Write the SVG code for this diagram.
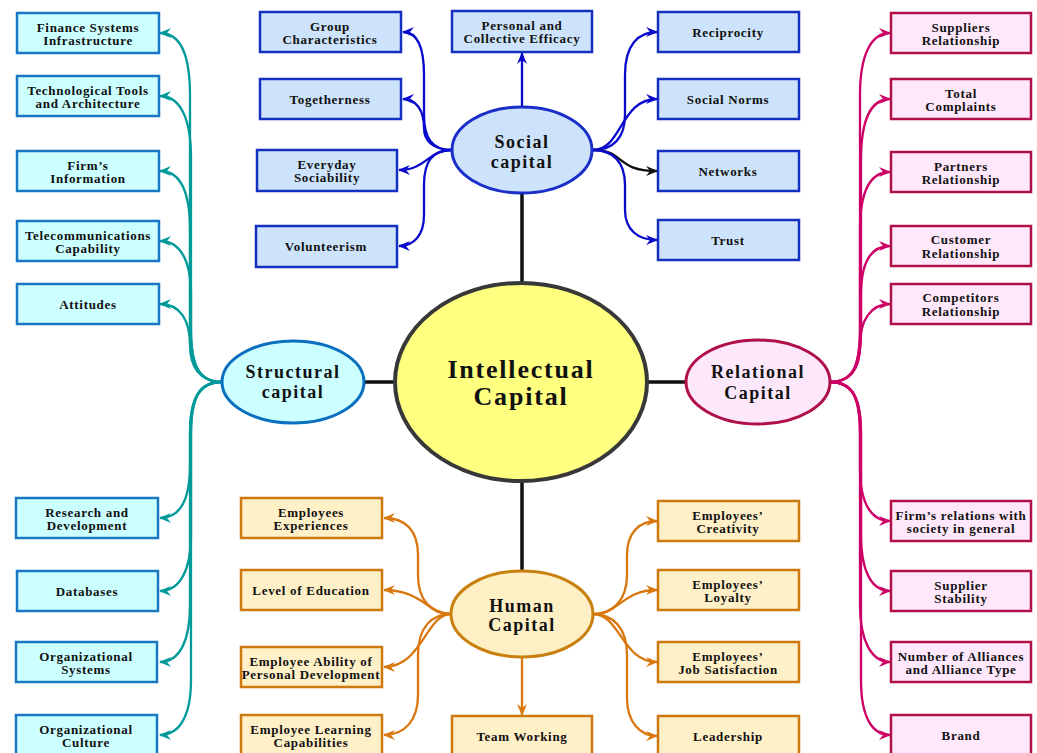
<svg xmlns="http://www.w3.org/2000/svg" width="1037" height="753" viewBox="0 0 1037 753">
<defs>
<marker id="aT" markerUnits="userSpaceOnUse" markerWidth="12" markerHeight="12" viewBox="0 0 12 12" refX="11" refY="6" orient="auto"><path d="M0,1 L12,6 L0,11 L4,6 z" fill="#009a9a"/></marker>
<marker id="aB" markerUnits="userSpaceOnUse" markerWidth="12" markerHeight="12" viewBox="0 0 12 12" refX="11" refY="6" orient="auto"><path d="M0,1 L12,6 L0,11 L4,6 z" fill="#0a0acc"/></marker>
<marker id="aK" markerUnits="userSpaceOnUse" markerWidth="12" markerHeight="12" viewBox="0 0 12 12" refX="11" refY="6" orient="auto"><path d="M0,1 L12,6 L0,11 L4,6 z" fill="#111"/></marker>
<marker id="aP" markerUnits="userSpaceOnUse" markerWidth="12" markerHeight="12" viewBox="0 0 12 12" refX="11" refY="6" orient="auto"><path d="M0,1 L12,6 L0,11 L4,6 z" fill="#cc0066"/></marker>
<marker id="aO" markerUnits="userSpaceOnUse" markerWidth="12" markerHeight="12" viewBox="0 0 12 12" refX="11" refY="6" orient="auto"><path d="M0,1 L12,6 L0,11 L4,6 z" fill="#d9770f"/></marker>
</defs>
<style>
text{font-family:"Liberation Serif","Times New Roman",serif;font-weight:bold;fill:#111;text-anchor:middle}
.bt{font-size:13px;letter-spacing:0.7px}
.et{font-size:18px;letter-spacing:1.5px}
.ct{font-size:26px;letter-spacing:1.8px}
.st rect{fill:#ccffff;stroke:#1a78c2;stroke-width:2.5}
.so rect{fill:#cce3fb;stroke:#1530c0;stroke-width:2.5}
.re rect{fill:#ffe8fb;stroke:#b0104a;stroke-width:2.5}
.hu rect{fill:#fff0c8;stroke:#cc7a10;stroke-width:2.5}
.c{fill:none;stroke-width:2.3}
.cT{stroke:#009a9a;marker-end:url(#aT)}
.cB{stroke:#0a0acc;marker-end:url(#aB)}
.cK{stroke:#111;marker-end:url(#aK)}
.cP{stroke:#cc0066;marker-end:url(#aP)}
.cO{stroke:#d9770f;marker-end:url(#aO)}
.ln{stroke:#111;stroke-width:3.5;fill:none}
</style>
<rect width="1037" height="753" fill="#ffffff"/>

<g id="connectors">
<path class="ln" d="M522,193 L522,283 M365,382 L395,382 M648,382 L686,382 M522,480 L522,571"/>
<!-- structural -->
<path class="c cT" d="M222,382 C199,382 190,366 190,330 L190,95 C190,55 180,33 160,33"/>
<path class="c cT" d="M222,382 C199,382 191,366 191,330 L191,158 C191,118 180,96 160,96"/>
<path class="c cT" d="M222,382 C199,382 190,366 190,330 L190,230 C190,190 180,171 160,171"/>
<path class="c cT" d="M222,382 C199,382 191,366 191,330 L191,295 C191,260 180,241 160,241"/>
<path class="c cT" d="M222,382 C199,382 190,366 190,345 C190,320 180,304 160,304"/>
<path class="c cT" d="M222,382 C199,382 190,398 190,434 L190,465 C190,500 180,518 160,518"/>
<path class="c cT" d="M222,382 C199,382 191,398 191,434 L191,535 C191,570 180,591 160,591"/>
<path class="c cT" d="M222,382 C199,382 190,398 190,434 L190,605 C190,640 180,662 160,662"/>
<path class="c cT" d="M222,382 C199,382 191,398 191,434 L191,680 C191,715 180,735 160,735"/>
<!-- social -->
<path class="c cB" d="M522,107 L522,53"/>
<path class="c cB" d="M452,150 C432,150 424,138 424,115 L424,75 C424,45 416,32 403,32"/>
<path class="c cB" d="M452,150 C432,150 424,140 424,128 C424,110 416,99 403,99"/>
<path class="c cB" d="M452,150 C428,150 426,170 399,170"/>
<path class="c cB" d="M452,150 C432,150 424,162 424,185 L424,215 C424,235 414,246 399,246"/>
<path class="c cB" d="M593,150 C613,150 625,138 625,115 L625,75 C625,45 638,32 657,32"/>
<path class="c cB" d="M593,150 C622,150 620,99 657,99"/>
<path class="c cK" d="M593,150 C625,150 615,171 657,171"/>
<path class="c cB" d="M593,150 C613,150 625,162 625,185 L625,210 C625,230 638,240 657,240"/>
<!-- relational -->
<path class="c cP" d="M830,382 C853,382 860,366 860,330 L860,95 C860,55 871,33 890,33"/>
<path class="c cP" d="M830,382 C853,382 861,366 861,330 L861,160 C861,120 871,99 890,99"/>
<path class="c cP" d="M830,382 C853,382 860,366 860,330 L860,230 C860,190 871,172 890,172"/>
<path class="c cP" d="M830,382 C853,382 861,366 861,330 L861,295 C861,262 871,246 890,246"/>
<path class="c cP" d="M830,382 C853,382 860,366 860,345 C860,320 871,304 890,304"/>
<path class="c cP" d="M830,382 C853,382 860,398 860,434 L860,468 C860,503 871,521 890,521"/>
<path class="c cP" d="M830,382 C853,382 861,398 861,434 L861,535 C861,570 871,591 890,591"/>
<path class="c cP" d="M830,382 C853,382 860,398 860,434 L860,605 C860,640 871,662 890,662"/>
<path class="c cP" d="M830,382 C853,382 861,398 861,434 L861,680 C861,715 871,735 890,735"/>
<!-- human -->
<path class="c cO" d="M522,658 L522,715"/>
<path class="c cO" d="M451,614 C431,614 418,600 418,575 L418,555 C418,530 405,518 384,518"/>
<path class="c cO" d="M451,614 C428,614 422,590 384,590"/>
<path class="c cO" d="M451,614 C426,614 422,667 384,667"/>
<path class="c cO" d="M451,614 C431,614 418,628 418,655 L418,695 C418,720 405,735 384,735"/>
<path class="c cO" d="M593,614 C613,614 627,600 627,575 L627,555 C627,532 640,521 657,521"/>
<path class="c cO" d="M593,614 C620,614 622,590 657,590"/>
<path class="c cO" d="M593,614 C620,614 622,662 657,662"/>
<path class="c cO" d="M593,614 C613,614 627,628 627,655 L627,698 C627,722 640,736 657,736"/>
</g>

<g id="intellectual-capital">
<ellipse cx="521" cy="382" rx="126" ry="99" fill="#ffff80" stroke="#383838" stroke-width="4"/>
<text class="ct" x="521" y="378">Intellectual</text>
<text class="ct" x="521" y="405">Capital</text>
</g>
<g id="social-capital">
<ellipse cx="522" cy="150" rx="70" ry="43" fill="#cce3fb" stroke="#1a2fc8" stroke-width="3"/>
<text class="et" x="522" y="148">Social</text>
<text class="et" x="522" y="168">capital</text>
</g>
<g id="structural-capital">
<ellipse cx="293" cy="382" rx="71" ry="41" fill="#ccffff" stroke="#0a6fbf" stroke-width="3"/>
<text class="et" x="293" y="378">Structural</text>
<text class="et" x="293" y="398">capital</text>
</g>
<g id="relational-capital">
<ellipse cx="758" cy="382" rx="72" ry="42" fill="#fde8fb" stroke="#b0104a" stroke-width="3"/>
<text class="et" x="758" y="378">Relational</text>
<text class="et" x="758" y="399">Capital</text>
</g>
<g id="human-capital">
<ellipse cx="522" cy="614" rx="71" ry="43" fill="#ffefc5" stroke="#c8800f" stroke-width="3"/>
<text class="et" x="522" y="612">Human</text>
<text class="et" x="522" y="631">Capital</text>
</g>

<!-- structural boxes -->
<g id="finance-systems" class="st"><rect x="17" y="13" width="142" height="40"/><text class="bt" x="88" y="32">Finance Systems</text><text class="bt" x="88" y="45">Infrastructure</text></g>
<g id="technological-tools" class="st"><rect x="17" y="76" width="142" height="40"/><text class="bt" x="88" y="95">Technological Tools</text><text class="bt" x="88" y="108">and Architecture</text></g>
<g id="firms-information" class="st"><rect x="17" y="151" width="142" height="40"/><text class="bt" x="88" y="170">Firm’s</text><text class="bt" x="88" y="183">Information</text></g>
<g id="telecommunications" class="st"><rect x="17" y="221" width="142" height="40"/><text class="bt" x="88" y="240">Telecommunications</text><text class="bt" x="88" y="253">Capability</text></g>
<g id="attitudes" class="st"><rect x="17" y="284" width="142" height="40"/><text class="bt" x="88" y="309">Attitudes</text></g>
<g id="research-development" class="st"><rect x="16" y="498" width="142" height="40"/><text class="bt" x="87" y="517">Research and</text><text class="bt" x="87" y="530">Development</text></g>
<g id="databases" class="st"><rect x="17" y="571" width="141" height="40"/><text class="bt" x="87" y="596">Databases</text></g>
<g id="organizational-systems" class="st"><rect x="16" y="642" width="141" height="40"/><text class="bt" x="86" y="661">Organizational</text><text class="bt" x="86" y="674">Systems</text></g>
<g id="organizational-culture" class="st"><rect x="16" y="715" width="141" height="40"/><text class="bt" x="86" y="734">Organizational</text><text class="bt" x="86" y="747">Culture</text></g>

<!-- social boxes -->
<g id="group-characteristics" class="so"><rect x="260" y="12" width="141" height="40"/><text class="bt" x="330" y="31">Group</text><text class="bt" x="330" y="44">Characteristics</text></g>
<g id="togetherness" class="so"><rect x="260" y="79" width="141" height="40"/><text class="bt" x="330" y="104">Togetherness</text></g>
<g id="everyday-sociability" class="so"><rect x="257" y="150" width="140" height="41"/><text class="bt" x="327" y="169">Everyday</text><text class="bt" x="327" y="182">Sociability</text></g>
<g id="volunteerism" class="so"><rect x="256" y="226" width="141" height="41"/><text class="bt" x="326" y="251">Volunteerism</text></g>
<g id="personal-collective-efficacy" class="so"><rect x="452" y="11" width="140" height="41"/><text class="bt" x="522" y="30">Personal and</text><text class="bt" x="522" y="43">Collective Efficacy</text></g>
<g id="reciprocity" class="so"><rect x="658" y="12" width="141" height="40"/><text class="bt" x="728" y="37">Reciprocity</text></g>
<g id="social-norms" class="so"><rect x="658" y="79" width="141" height="40"/><text class="bt" x="728" y="104">Social Norms</text></g>
<g id="networks" class="so"><rect x="658" y="151" width="141" height="40"/><text class="bt" x="728" y="176">Networks</text></g>
<g id="trust" class="so"><rect x="658" y="220" width="141" height="40"/><text class="bt" x="728" y="245">Trust</text></g>

<!-- relational boxes -->
<g id="suppliers-relationship" class="re"><rect x="891" y="13" width="140" height="40"/><text class="bt" x="961" y="32">Suppliers</text><text class="bt" x="961" y="45">Relationship</text></g>
<g id="total-complaints" class="re"><rect x="891" y="79" width="140" height="40"/><text class="bt" x="961" y="98">Total</text><text class="bt" x="961" y="111">Complaints</text></g>
<g id="partners-relationship" class="re"><rect x="891" y="152" width="140" height="40"/><text class="bt" x="961" y="171">Partners</text><text class="bt" x="961" y="184">Relationship</text></g>
<g id="customer-relationship" class="re"><rect x="891" y="226" width="140" height="40"/><text class="bt" x="961" y="244">Customer</text><text class="bt" x="961" y="258">Relationship</text></g>
<g id="competitors-relationship" class="re"><rect x="891" y="284" width="140" height="40"/><text class="bt" x="961" y="302">Competitors</text><text class="bt" x="961" y="316">Relationship</text></g>
<g id="firms-relations-society" class="re"><rect x="891" y="501" width="140" height="40"/><text class="bt" x="961" y="520">Firm’s relations with</text><text class="bt" x="961" y="533">society in general</text></g>
<g id="supplier-stability" class="re"><rect x="891" y="571" width="140" height="40"/><text class="bt" x="961" y="590">Supplier</text><text class="bt" x="961" y="603">Stability</text></g>
<g id="number-of-alliances" class="re"><rect x="891" y="642" width="140" height="40"/><text class="bt" x="961" y="661">Number of Alliances</text><text class="bt" x="961" y="674">and Alliance Type</text></g>
<g id="brand" class="re"><rect x="891" y="715" width="140" height="40"/><text class="bt" x="961" y="740">Brand</text></g>

<!-- human boxes -->
<g id="employees-experiences" class="hu"><rect x="241" y="498" width="141" height="40"/><text class="bt" x="311" y="517">Employees</text><text class="bt" x="311" y="530">Experiences</text></g>
<g id="level-of-education" class="hu"><rect x="241" y="570" width="141" height="40"/><text class="bt" x="311" y="595">Level of Education</text></g>
<g id="employee-ability" class="hu"><rect x="241" y="647" width="141" height="40"/><text class="bt" x="311" y="666" letter-spacing="0.3">Employee Ability of</text><text class="bt" x="311" y="679" letter-spacing="0.3">Personal Development</text></g>
<g id="employee-learning" class="hu"><rect x="241" y="715" width="141" height="40"/><text class="bt" x="311" y="734">Employee Learning</text><text class="bt" x="311" y="747">Capabilities</text></g>
<g id="team-working" class="hu"><rect x="452" y="716" width="140" height="40"/><text class="bt" x="522" y="741">Team Working</text></g>
<g id="employees-creativity" class="hu"><rect x="658" y="501" width="141" height="40"/><text class="bt" x="728" y="520">Employees’</text><text class="bt" x="728" y="533">Creativity</text></g>
<g id="employees-loyalty" class="hu"><rect x="658" y="570" width="141" height="40"/><text class="bt" x="728" y="589">Employees’</text><text class="bt" x="728" y="602">Loyalty</text></g>
<g id="employees-job-satisfaction" class="hu"><rect x="658" y="642" width="141" height="40"/><text class="bt" x="728" y="661">Employees’</text><text class="bt" x="728" y="674">Job Satisfaction</text></g>
<g id="leadership" class="hu"><rect x="658" y="716" width="141" height="40"/><text class="bt" x="728" y="741">Leadership</text></g>
</svg>
